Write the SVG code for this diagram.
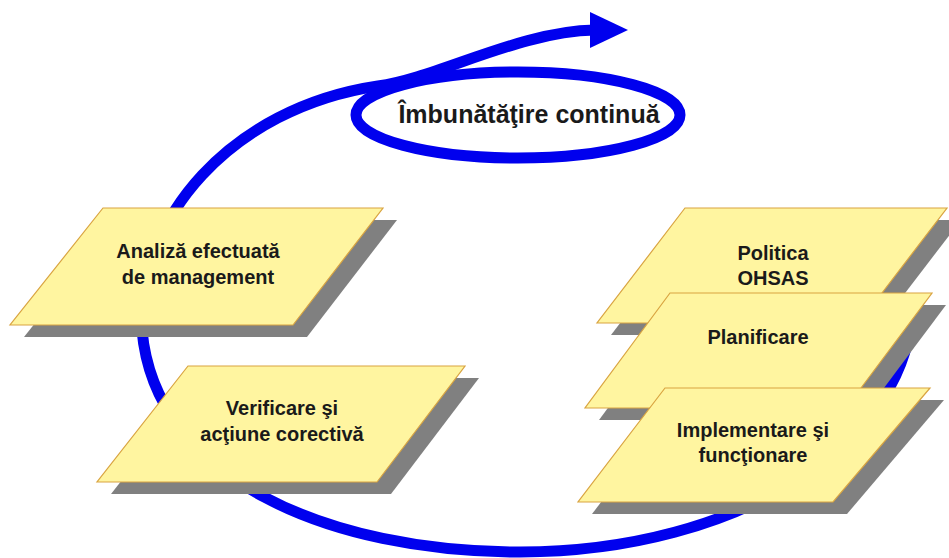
<svg xmlns="http://www.w3.org/2000/svg" width="949" height="558" viewBox="0 0 949 558">
  <style>
    .loop { fill: none; stroke: #0000EE; stroke-width: 11; }
    .shadow { fill: #808080; }
    .box { fill: #FFF5A0; stroke: #D9A441; stroke-width: 1.2; }
    .label { font-family: "Liberation Sans", Arial, sans-serif; font-weight: bold; font-size: 20px; fill: #1a1a1a; text-anchor: middle; }
    .title { font-size: 25px; }
  </style>
  <rect width="949" height="558" fill="#ffffff"/>

  <!-- improvement spiral: large loop ending in an arrow, plus the small loop -->
  <g id="connectors">
    <path class="loop" d="M 912,300 C 915,440 740,552 520,552 C 330,552 155,480 142,330 C 136,220 230,108 378,86 C 437,78 520,31 595,30"/>
    <polygon points="590,12 628,30 590,48" fill="#0000EE"/>
    <ellipse class="loop" cx="518" cy="115" rx="162" ry="43"/>
  </g>

  <g id="improvement">
    <text class="label title" x="529" y="123">Îmbunătăţire continuă</text>
  </g>

  <g id="review">
    <polygon class="shadow" points="117,220 397,220 307,337 24,337"/>
    <polygon class="box" points="103,208 383,208 293,325 10,325"/>
    <text class="label" x="198" y="258">Analiză efectuată</text>
    <text class="label" x="198" y="284">de management</text>
  </g>

  <g id="checking">
    <polygon class="shadow" points="202,378 479,378 391,494 111,494"/>
    <polygon class="box" points="188,366 465,366 377,482 97,482"/>
    <text class="label" x="282" y="415">Verificare şi</text>
    <text class="label" x="282" y="441">acţiune corectivă</text>
  </g>

  <g id="policy">
    <polygon class="shadow" points="699,220 961,220 873,335 611,335"/>
    <polygon class="box" points="685,208 947,208 859,323 597,323"/>
    <text class="label" x="773" y="260">Politica</text>
    <text class="label" x="773" y="285">OHSAS</text>
  </g>

  <g id="planning">
    <polygon class="shadow" points="684,305 946,305 860,420 599,420"/>
    <polygon class="box" points="670,293 932,293 846,408 585,408"/>
    <text class="label" x="758" y="344">Planificare</text>
  </g>

  <g id="implementation">
    <polygon class="shadow" points="679,400 944,400 847,514 592,514"/>
    <polygon class="box" points="665,388 930,388 833,502 578,502"/>
    <text class="label" x="753" y="437">Implementare şi</text>
    <text class="label" x="753" y="462">funcţionare</text>
  </g>
</svg>
